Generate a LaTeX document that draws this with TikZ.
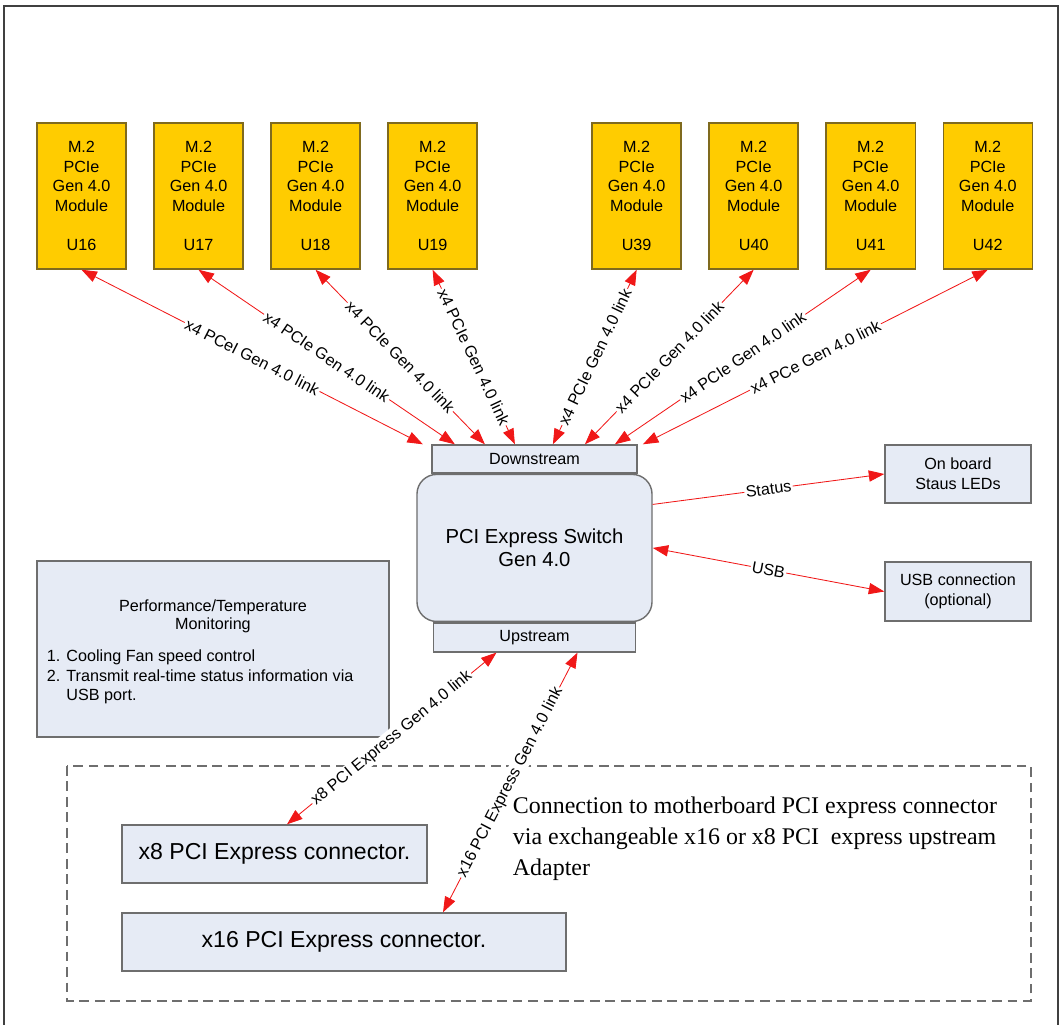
\documentclass[tikz,border=0pt]{standalone}
\usepackage{fontspec}
\setmainfont{Liberation Sans}
\newfontfamily\timesfont{Liberation Serif}
\usepackage{xcolor}
\usetikzlibrary{arrows.meta,positioning}

\definecolor{modfill}{HTML}{FFCC00}
\definecolor{moddraw}{HTML}{7F6A1E}
\definecolor{boxfill}{HTML}{E6EBF5}
\definecolor{boxdraw}{HTML}{6E6E6E}
\definecolor{linkred}{HTML}{F01818}

\begin{document}
\begin{tikzpicture}[x=0.025cm,y=-0.025cm,>={Triangle[length=11pt,width=8pt]},
    node distance=2.925cm,font=\fontsize{11.5}{14}\selectfont]
    \tikzstyle{module}=[draw=moddraw,fill=modfill,line width=1pt,
      minimum width=2.225cm,minimum height=3.65cm,align=center,inner sep=0pt]
    \tikzstyle{block}=[draw=boxdraw,fill=boxfill,line width=1pt,align=center,inner sep=0pt]
    \tikzstyle{link}=[color=linkred,line width=0.6pt]
    \tikzstyle{linklabel}=[sloped,midway,fill=white,inner sep=1pt,text=black]

    \useasboundingbox (0,0) rectangle (1061,1025);
    \draw[line width=1pt,black!75] (4,1025) -- (4,6) -- (1058,6) -- (1058,1025);

    % M.2 modules
    \node[module] (u16) at (81.5,196)           {M.2\\PCIe\\Gen 4.0\\Module\\[14pt]U16};
    \node[module] (u17) [right of=u16]          {M.2\\PCIe\\Gen 4.0\\Module\\[14pt]U17};
    \node[module] (u18) [right of=u17]          {M.2\\PCIe\\Gen 4.0\\Module\\[14pt]U18};
    \node[module] (u19) [right of=u18]          {M.2\\PCIe\\Gen 4.0\\Module\\[14pt]U19};
    \node[module] (u39) [node distance=5.1cm,right of=u19] {M.2\\PCIe\\Gen 4.0\\Module\\[14pt]U39};
    \node[module] (u40) [right of=u39]          {M.2\\PCIe\\Gen 4.0\\Module\\[14pt]U40};
    \node[module] (u41) [right of=u40]          {M.2\\PCIe\\Gen 4.0\\Module\\[14pt]U41};
    \node[module] (u42) [right of=u41]          {M.2\\PCIe\\Gen 4.0\\Module\\[14pt]U42};

    % switch
    \node[block,minimum width=5.125cm,minimum height=0.7cm] (down) at (534.5,459) {Downstream};
    \node[block,rounded corners=14pt,minimum width=5.875cm,minimum height=3.675cm,
      font=\fontsize{14.4}{16.4}\selectfont] (switch) [below=0pt of down] {PCI Express Switch\\Gen 4.0};
    \node[block,minimum width=5.05cm,minimum height=0.725cm] (up) [below=0pt of switch] {Upstream};

    \node[block,minimum width=3.65cm,minimum height=1.45cm]  (leds) at (958,474)   {On board\\Staus LEDs};
    \node[block,minimum width=3.65cm,minimum height=1.475cm] (usb)  at (958,591.5) {USB connection\\(optional)};

    % monitoring
    \node[block,minimum width=8.8cm,minimum height=4.4cm] (mon) at (213,649) {};
    \node[align=center,font=\fontsize{11.5}{12.8}\selectfont] (montitle) at (213,616)
      {Performance/Temperature\\Monitoring};
    \node[anchor=west,align=left] (monlist) at (42,677)
      {1. Cooling Fan speed control\\2. Transmit real-time status information via\\\phantom{2. }USB port.};

    % upstream adapter
    \draw[boxdraw,line width=1pt,dash pattern=on 7pt off 4pt] (67,766) rectangle (1031,1001);
    \node[block,minimum width=7.625cm,minimum height=1.45cm,font=\fontsize{16.4}{19}\selectfont]
      (x8) at (274.5,854) {x8 PCI Express connector.};
    \node[block,minimum width=11.1cm,minimum height=1.45cm,font=\fontsize{16.4}{19}\selectfont]
      (x16) at (344,942) {x16 PCI Express connector.};
    \node[anchor=west,align=left,font=\timesfont\fontsize{17}{22}\selectfont] (note) at (508,839)
      {Connection to motherboard PCI express connector\\via exchangeable x16 or x8 PCI~ express upstream\\Adapter};

    \path[<->,link] (u16.south) edge node[linklabel] {x4 PCeI Gen 4.0 link} ([xshift=-2.79cm]down.north)
          (u17.south) edge node[linklabel] {x4 PCIe Gen 4.0 link}  ([xshift=-1.99cm]down.north)
          (u18.south) edge node[linklabel] {x4 PCIe Gen 4.0 link}  ([xshift=-1.24cm]down.north)
          (u19.south) edge node[linklabel] {x4 PCIe Gen 4.0 link}  ([xshift=-0.49cm]down.north)
          (u39.south) edge node[linklabel] {x4 PCIe Gen 4.0 link}  ([xshift=0.46cm]down.north)
          (u40.south) edge node[linklabel] {x4 PCIe Gen 4.0 link}  ([xshift=1.26cm]down.north)
          (u41.south) edge node[linklabel] {x4 PCIe Gen 4.0 link}  ([xshift=2.01cm]down.north)
          (u42.south) edge node[linklabel] {x4 PCe Gen 4.0 link}   ([xshift=2.71cm]down.north);
    \path[->,link] ([yshift=1.0875cm]switch.east) edge node[linklabel] {Status} (leds.west);
    \path[<->,link] (switch.east) edge node[linklabel] {USB} (usb.west)
          ([xshift=-0.95cm]up.south) edge node[linklabel] {x8 PCI Express Gen 4.0 link} ([xshift=0.3125cm]x8.north)
          ([xshift=1.075cm]up.south) edge node[linklabel] {x16 PCI Express Gen 4.0 link} ([xshift=2.475cm]x16.north);
  \end{tikzpicture}
\end{document}
